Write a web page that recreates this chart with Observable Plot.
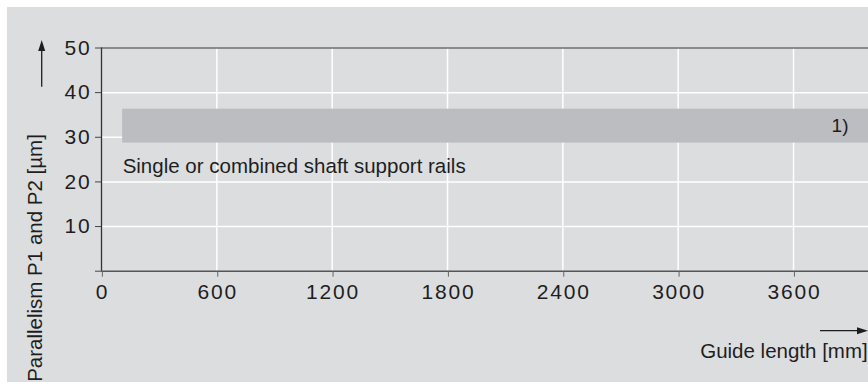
<!DOCTYPE html>
<html>
<head>
<meta charset="utf-8">
<script src="https://cdn.jsdelivr.net/npm/d3@7"></script>
<script src="https://cdn.jsdelivr.net/npm/@observablehq/plot@0.6"></script>
<style>
  html, body { margin: 0; padding: 0; background: #ffffff; }
  #wrap { position: absolute; left: 7px; top: 7px; width: 861px; height: 375px; overflow: hidden; }
  #wrap svg [aria-label="x-axis tick label"] text,
  #wrap svg [aria-label="y-axis tick label"] text { letter-spacing: 1.8px; font-size: 21px; }
</style>
</head>
<body>
<div id="wrap"></div>
<script>
// ---- data ----
const xTicks = [0, 600, 1200, 1800, 2400, 3000, 3600];
const yTicks = [0, 10, 20, 30, 40, 50];
const xMax = 3990;               // visible end of the guide-length axis
const bandStart = [110];          // mm
const bandEnd = [3990];           // mm
const bandLow = [28.7];           // µm
const bandHigh = [36.3];          // µm
const bandName = ["Single or combined shaft support rails"];
const bandNote = ["1)"];
const xLabel = "Guide length [mm]";
const yLabel = "Parallelism P1 and P2 [µm]";

const bands = bandStart.map((s, i) => ({
  start: s, end: bandEnd[i], low: bandLow[i], high: bandHigh[i],
  mid: (bandLow[i] + bandHigh[i]) / 2, name: bandName[i], note: bandNote[i]
}));

const FONT = "'Liberation Sans', Arial, Helvetica, sans-serif";

const svg = Plot.plot({
  width: 861,
  height: 375,
  marginLeft: 94,
  marginRight: 0,
  marginTop: 40.5,
  marginBottom: 111.3,
  x: { domain: [0, xMax] },
  y: { domain: [0, 50] },
  style: { background: "#dcdddf", fontFamily: FONT, color: "#1e1e1e", overflow: "hidden" },
  marks: [
    Plot.gridX(xTicks.filter(d => d > 0), { stroke: "#ffffff", strokeOpacity: 1, strokeWidth: 1.5 }),
    Plot.gridY(yTicks.filter(d => d > 0 && d < 50), { stroke: "#ffffff", strokeOpacity: 1, strokeWidth: 1.5 }),
    Plot.rect(bands, { x1: "start", x2: "end", y1: "low", y2: "high", fill: "#bcbdc0" }),
    Plot.ruleY([50], { stroke: "#6e6e6e", strokeWidth: 1.5 }),
    Plot.ruleY([0], { stroke: "#555555", strokeWidth: 1.5 }),
    Plot.ruleX([0], { stroke: "#333333", strokeWidth: 1.3 }),
    Plot.axisX({ ticks: xTicks, tickSize: 6, tickPadding: 7, fontSize: 21, label: null,
                 tickFormat: d => String(d), stroke: "#666", fill: "#1e1e1e", dx: 0.9 }),
    Plot.axisY({ ticks: yTicks, tickSize: 6, tickPadding: 4, fontSize: 21, label: null,
                 tickFormat: d => d === 0 ? "" : String(d), stroke: "#444", fill: "#1e1e1e" }),
    Plot.text(bands, { x: "start", y: "low", text: "name", textAnchor: "start", dy: 23,
                       fontSize: 20.5, fill: "#1e1e1e" }),
    Plot.text(bands, { x: "end", y: "mid", text: "note", textAnchor: "end", dx: -20,
                       fontSize: 19, fill: "#1e1e1e" })
  ]
});

document.getElementById("wrap").appendChild(svg);

// axis titles and arrows
const s = d3.select(svg);
s.append("text")
  .attr("x", 860.7).attr("y", 351.3)
  .attr("text-anchor", "end")
  .attr("font-family", FONT).attr("font-size", 20.5).attr("fill", "#1e1e1e")
  .text(xLabel);
s.append("text")
  .attr("transform", "translate(35,251) rotate(-90)")
  .attr("text-anchor", "middle")
  .attr("font-family", FONT).attr("font-size", 20.5).attr("fill", "#1e1e1e")
  .text(yLabel);
// x arrow
s.append("line").attr("x1", 813).attr("y1", 323.7).attr("x2", 852).attr("y2", 323.7)
  .attr("stroke", "#1e1e1e").attr("stroke-width", 1.3);
s.append("path").attr("d", "M861,323.7 L850,320.2 L850,327.2 Z").attr("fill", "#1e1e1e");
// y arrow
s.append("line").attr("x1", 34.7).attr("y1", 79.7).attr("x2", 34.7).attr("y2", 42)
  .attr("stroke", "#1e1e1e").attr("stroke-width", 1.3);
s.append("path").attr("d", "M34.7,33 L31.2,44 L38.2,44 Z").attr("fill", "#1e1e1e");
</script>
</body>
</html>
